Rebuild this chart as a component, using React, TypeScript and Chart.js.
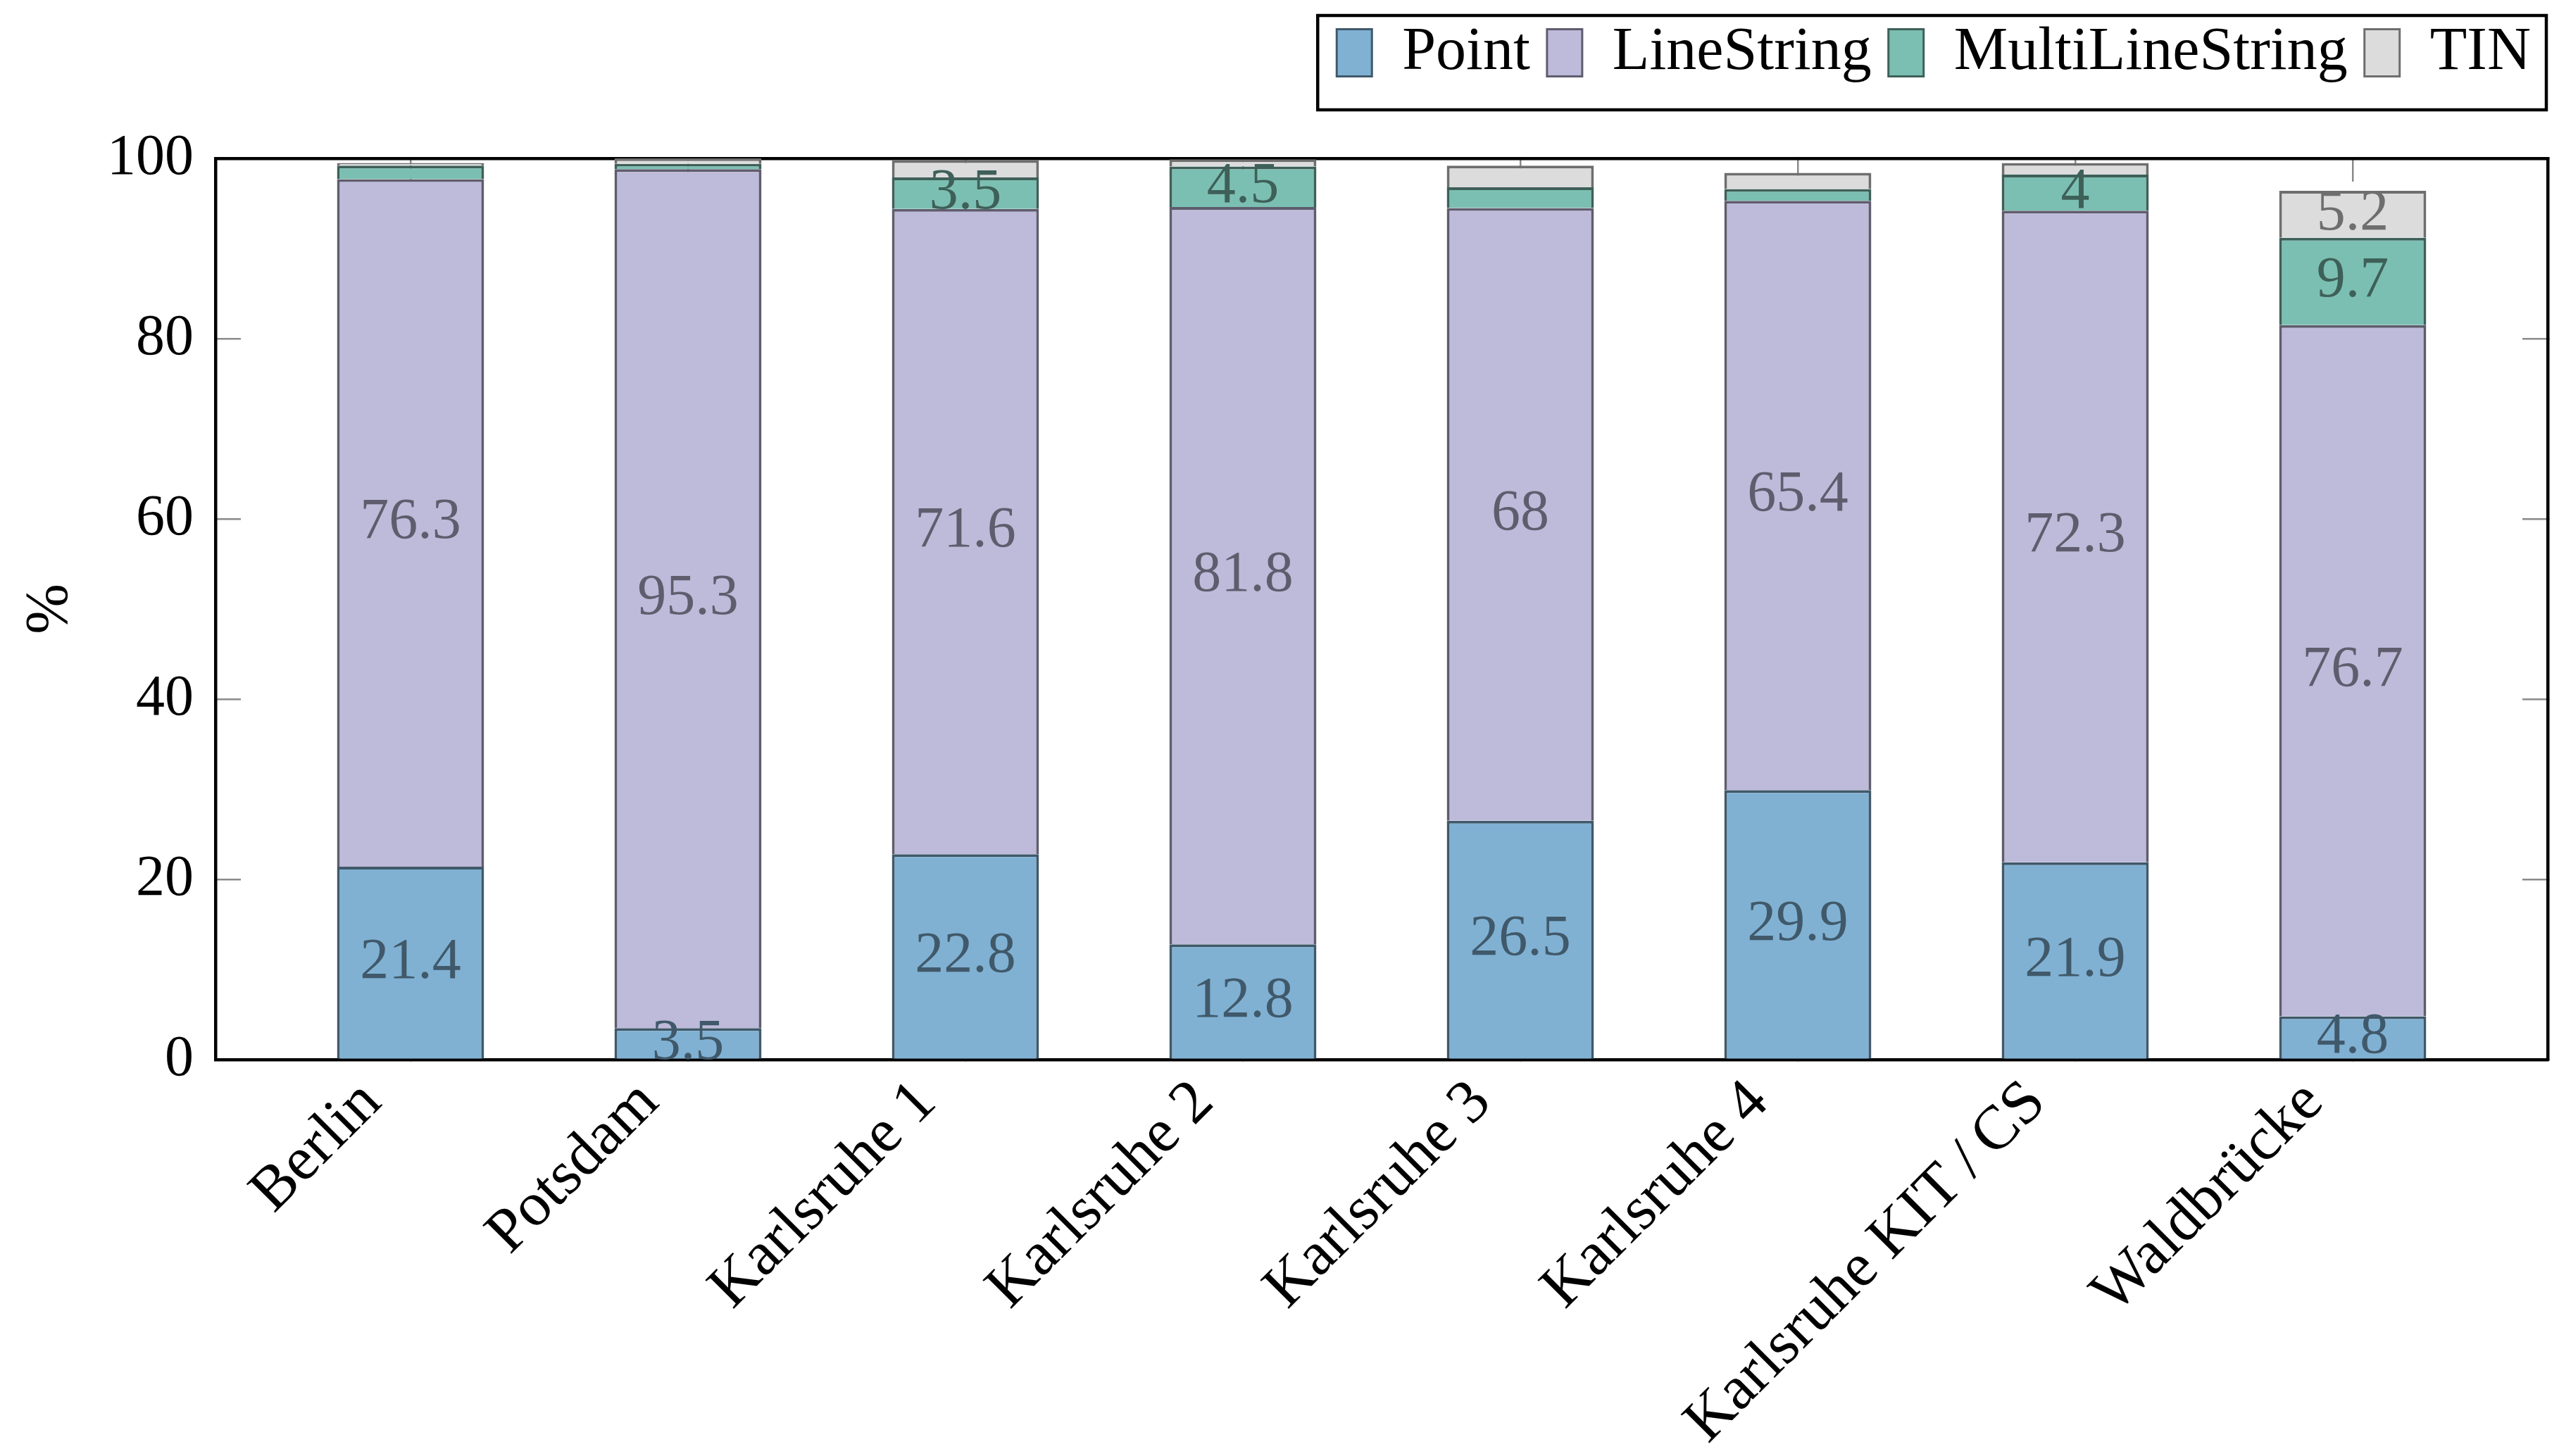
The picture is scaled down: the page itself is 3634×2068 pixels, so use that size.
import React, { useEffect, useRef } from "react";
import { Chart, registerables } from "chart.js";

Chart.register(...registerables);

// ---- data ----
const categories = [
  "Berlin",
  "Potsdam",
  "Karlsruhe 1",
  "Karlsruhe 2",
  "Karlsruhe 3",
  "Karlsruhe 4",
  "Karlsruhe KIT\u2009/\u2009CS",
  "Waldbrücke",
];
const seriesNames = ["Point", "LineString", "MultiLineString", "TIN"];
const pointValues = [21.4, 3.5, 22.8, 12.8, 26.5, 29.9, 21.9, 4.8];
const lineStringValues = [76.3, 95.3, 71.6, 81.8, 68, 65.4, 72.3, 76.7];
const multiLineStringValues = [1.5, 0.6, 3.5, 4.5, 2.3, 1.3, 4, 9.7];
const tinValues = [0.3, 0.6, 1.9, 0.8, 2.4, 1.8, 1.3, 5.2];
const yTickValues = [0, 20, 40, 60, 80, 100];
const labelThreshold = 3;

// ---- styles ----
const FONT = "'Liberation Serif', 'Times New Roman', serif";
const fillColors = ["#80b1d3", "#bebada", "#7bbfb2", "#dcdcdc"];
const borderColors = ["#40596a", "#5f5d6d", "#3e6059", "#6e6e6e"];
const seriesValues = [pointValues, lineStringValues, multiLineStringValues, tinValues];
const X_MIN = -0.703;
const X_MAX = 7.703;

const frameBorder = { display: true, color: "#000000", width: 4.5 };
const innerTicks = (len: number) => ({
  display: true,
  offset: false,
  drawOnChartArea: false,
  drawTicks: true,
  tickLength: -len,
  color: "#8a8a8a",
  lineWidth: 2.5,
});

const valueLabels = {
  id: "valueLabels",
  afterDatasetsDraw(chart: any) {
    const ctx = chart.ctx;
    ctx.save();
    ctx.font = `82px ${FONT}`;
    ctx.textAlign = "center";
    ctx.textBaseline = "middle";
    chart.data.datasets.forEach((ds: any, i: number) => {
      const meta = chart.getDatasetMeta(i);
      meta.data.forEach((el: any, j: number) => {
        const v = seriesValues[i][j];
        if (v < labelThreshold) return;
        const { x, y, base } = el.getProps(["x", "y", "base"], true);
        ctx.fillStyle = ds.borderColor;
        ctx.fillText(String(v), x, (y + base) / 2);
      });
    });
    ctx.restore();
  },
};

const legendFrame = {
  id: "legendFrame",
  afterDraw(chart: any) {
    const lg = chart.legend;
    if (!lg || !lg.legendHitBoxes || !lg.legendHitBoxes.length) return;
    const hb = lg.legendHitBoxes;
    const ctx = chart.ctx;
    const left = hb[0].left - 27;
    const right = chart.chartArea.right - 2;
    const top = hb[0].top - 10;
    const bottom = hb[0].top + hb[0].height + 38;
    ctx.save();
    ctx.strokeStyle = "#000000";
    ctx.lineWidth = 4.5;
    ctx.strokeRect(left, top, right - left, bottom - top);
    ctx.restore();
  },
};

export default function App() {
  const canvasRef = useRef<HTMLCanvasElement | null>(null);

  useEffect(() => {
    if (!canvasRef.current) return;
    const datasets = seriesNames.map((name, i) => ({
      label: name,
      data: seriesValues[i].map((v, j) => ({ x: j, y: v })),
      backgroundColor: fillColors[i],
      borderColor: borderColors[i],
      borderWidth: { top: 4, left: 4, right: 4, bottom: 0 },
      borderSkipped: false,
      barPercentage: 0.53,
      categoryPercentage: 1,
      xAxisID: "x",
      yAxisID: "y",
    }));

    const chart = new Chart(canvasRef.current, {
      type: "bar",
      data: { datasets },
      options: {
        animation: false,
        responsive: true,
        maintainAspectRatio: false,
        layout: { padding: { left: 0, right: 8, top: 0, bottom: 0 } },
        plugins: {
          tooltip: { enabled: false },
          legend: {
            display: true,
            position: "top",
            align: "end",
            labels: {
              boxWidth: 50,
              boxHeight: 67,
              padding: 24,
              color: "#000000",
              font: { family: FONT, size: 86 },
            },
          },
        },
        scales: {
          x: {
            type: "linear",
            position: "bottom",
            stacked: true,
            min: X_MIN,
            max: X_MAX,
            offset: false,
            ticks: {
              stepSize: 1,
              includeBounds: false,
              autoSkip: false,
              minRotation: 45,
              maxRotation: 45,
              padding: 44,
              labelOffset: -55,
              color: "#000000",
              font: { family: FONT, size: 88 },
              callback: (v: any) => categories[Number(v)] ?? "",
            },
            grid: innerTicks(34),
            border: frameBorder,
            afterFit: (s: any) => {
              s.height = 555;
            },
          },
          x2: {
            type: "linear",
            position: "top",
            min: X_MIN,
            max: X_MAX,
            offset: false,
            ticks: { display: false, stepSize: 1, includeBounds: false },
            grid: innerTicks(33),
            border: frameBorder,
            afterFit: (s: any) => {
              s.height = 97;
            },
          },
          y: {
            type: "linear",
            position: "left",
            stacked: true,
            min: 0,
            max: 100,
            ticks: {
              stepSize: 20,
              padding: 67,
              color: "#000000",
              font: { family: FONT, size: 82 },
              callback: (v: any) => (yTickValues.includes(Number(v)) ? String(v) : ""),
            },
            grid: innerTicks(36),
            border: frameBorder,
            title: {
              display: true,
              text: "%",
              color: "#000000",
              font: { family: FONT, size: 86 },
              padding: { top: 13, bottom: 0 },
            },
            afterFit: (s: any) => {
              s.width = 298;
            },
          },
          y2: {
            type: "linear",
            position: "right",
            min: 0,
            max: 100,
            ticks: { display: false, stepSize: 20 },
            grid: innerTicks(36),
            border: frameBorder,
            afterFit: (s: any) => {
              s.width = 0;
            },
          },
        },
      } as any,
      plugins: [valueLabels, legendFrame],
    });
    return () => chart.destroy();
  }, []);

  return (
    <div style={{ position: "relative", width: "3618px", height: "2052px" }}>
      <canvas ref={canvasRef} />
    </div>
  );
}
